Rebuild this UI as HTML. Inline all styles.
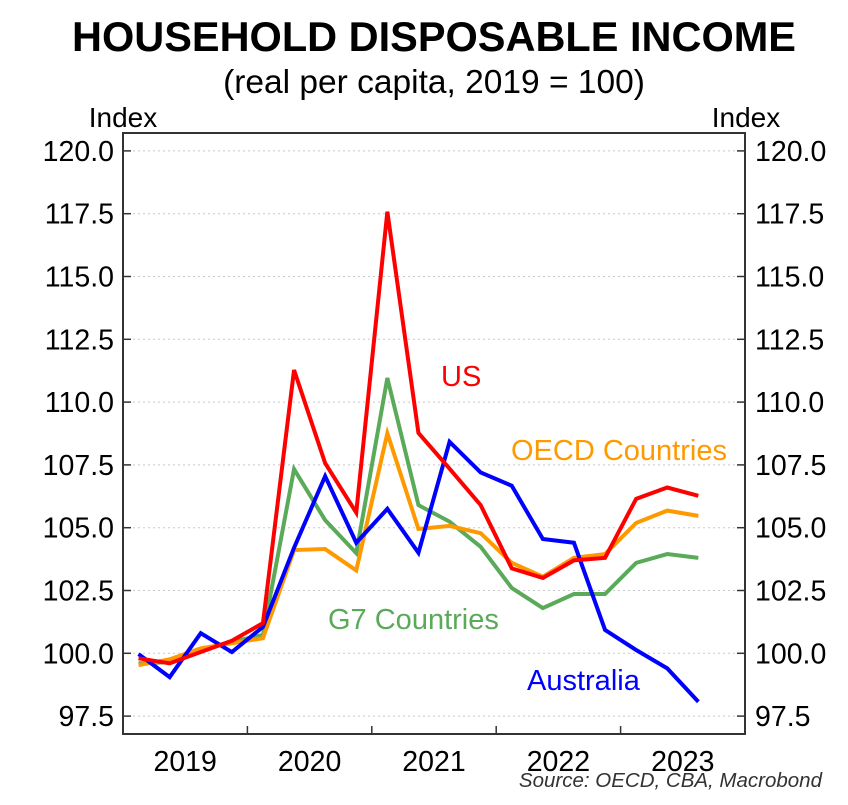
<!DOCTYPE html>
<html><head><meta charset="utf-8"><style>
body{margin:0;background:#fff;}
svg text{font-family:"Liberation Sans",Arial,sans-serif;}
</style></head><body>
<svg width="848" height="800" viewBox="0 0 848 800" xmlns="http://www.w3.org/2000/svg">
<text x="434" y="51" text-anchor="middle" font-size="41.5" font-weight="bold">HOUSEHOLD DISPOSABLE INCOME</text>
<text x="434" y="93" text-anchor="middle" font-size="33.5">(real per capita, 2019 = 100)</text>
<text x="123" y="127" text-anchor="middle" font-size="28">Index</text>
<text x="746" y="127" text-anchor="middle" font-size="28">Index</text>
<g id="grid"></g>
<g id="lines"></g>
<rect x="123" y="133" width="622" height="601" fill="none" stroke="#333" stroke-width="2"/>
<g id="axes"></g>
<text x="441" y="386" fill="#ff0000" font-size="29">US</text>
<text x="511" y="460" fill="#ff9900" font-size="29">OECD Countries</text>
<text x="328" y="629" fill="#5aaa5a" font-size="29">G7 Countries</text>
<text x="527" y="690" fill="#0000ff" font-size="29">Australia</text>
<text x="822" y="787" text-anchor="end" font-size="20.5" font-style="italic" fill="#333">Source: OECD, CBA, Macrobond</text>
</svg>
<script>
const years = ["2019","2020","2021","2022","2023"];
const yTicks = [97.5,100,102.5,105,107.5,110,112.5,115,117.5,120];
const australia = [99.97,99.05,100.8,100.05,101.05,104.2,107.05,104.4,105.75,104.0,108.42,107.2,106.67,104.55,104.4,100.93,100.13,99.4,98.07];
const us = [99.8,99.6,100.05,100.5,101.2,111.28,107.57,105.6,117.58,108.77,107.35,105.9,103.38,103.0,103.7,103.8,106.15,106.6,106.27];
const g7 = [99.6,99.65,100.13,100.46,100.73,107.33,105.3,103.99,110.96,105.9,105.24,104.24,102.6,101.8,102.36,102.36,103.6,103.95,103.8];
const oecd = [99.53,99.76,100.2,100.4,100.6,104.11,104.15,103.3,108.76,104.95,105.07,104.78,103.6,103.05,103.8,103.95,105.19,105.68,105.47];
const NS="http://www.w3.org/2000/svg";
const L=123,R=745,T=133,B=734,QW=(R-L)/20;
function xq(i){return L+(i+0.5)*QW;}
function yv(v){return 653.3-(v-100)*25.12;}
function mk(tag,attrs,parent){const e=document.createElementNS(NS,tag);for(const k in attrs)e.setAttribute(k,attrs[k]);parent.appendChild(e);return e;}
const grid=document.getElementById('grid'),axes=document.getElementById('axes'),lines=document.getElementById('lines');
yTicks.forEach(v=>{
  const y=yv(v);
  const g=mk('line',{x1:L,x2:R,y1:y,y2:y,stroke:'#c8c8c8','stroke-width':1,'stroke-dasharray':'2,3'},grid);
  
  
  mk('line',{x1:L,x2:L+8,y1:y,y2:y,stroke:'#333','stroke-width':1.5},axes);
  mk('line',{x1:R-8,x2:R,y1:y,y2:y,stroke:'#333','stroke-width':1.5},axes);
  const t1=mk('text',{x:L-9,y:y+10,'text-anchor':'end','font-size':28.5},axes);t1.textContent=v.toFixed(1);
  
  
  const t2=mk('text',{x:R+10,y:y+10,'text-anchor':'start','font-size':28.5},axes);t2.textContent=v.toFixed(1);
  
  
});
years.forEach((yr,k)=>{
  const x0=L+k*4*QW;
  if(k>0){mk('line',{x1:x0,x2:x0,y1:B,y2:B-8,stroke:'#333','stroke-width':1.5},axes);}
  const t=mk('text',{x:x0+2*QW,y:771,'text-anchor':'middle','font-size':28.5},axes);t.textContent=yr;
  
  
});
[[g7,'#5aaa5a','g7-line'],[oecd,'#ff9900','oecd-line'],[australia,'#0000ff','australia-line'],[us,'#ff0000','us-line']].forEach(([d,c,n])=>{
  const p=mk('polyline',{points:d.map((v,i)=>xq(i)+','+yv(v)).join(' '),fill:'none',stroke:c,'stroke-width':4,'stroke-linejoin':'miter'},lines);
  
  
});
</script>
</body></html>
